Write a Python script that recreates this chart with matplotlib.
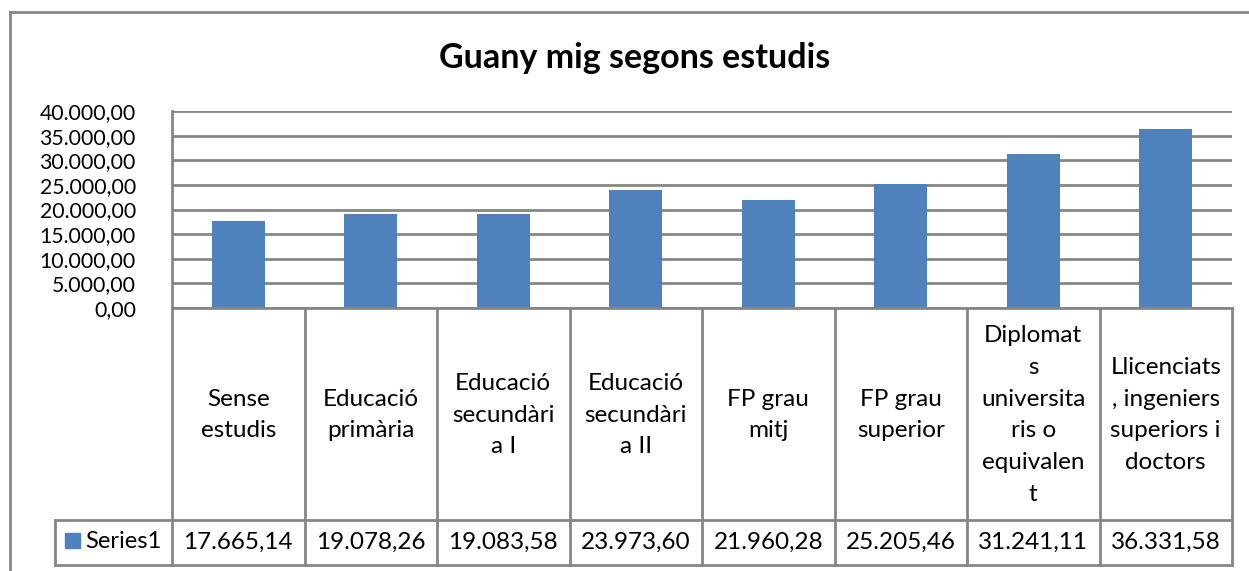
import matplotlib
matplotlib.use("Agg")
import matplotlib.pyplot as plt
from matplotlib.lines import Line2D
from matplotlib.patches import Rectangle

categories = ["Sense\nestudis", "Educació\nprimària", "Educació\nsecundàri\na I",
              "Educació\nsecundàri\na II", "FP grau\nmitj", "FP grau\nsuperior",
              "Diplomat\ns\nuniversita\nris o\nequivalen\nt",
              "Llicenciats\n, ingeniers\nsuperiors i\ndoctors"]
values = [17665.14, 19078.26, 19083.58, 23973.60, 21960.28, 25205.46, 31241.11, 36331.58]
series_name = "Series1"
title = "Guany mig segons estudis"
yticks = [0, 5000, 10000, 15000, 20000, 25000, 30000, 35000, 40000]

BAR = "#4F81BD"
GRID = "#868686"
FONT = ["Lato", "DejaVu Sans"]
plt.rcParams['font.family'] = FONT

W, H = 1249, 571
fig = plt.figure(figsize=(W / 100, H / 100), dpi=100)

def fx(px):
    return px / W

def fy(py):
    return 1 - py / H

# plot area
L, R, T, B = 172, 1232, 111, 308
ax = fig.add_axes([fx(L), fy(B), fx(R - L), (B - T) / H])
n = len(values)
ax.bar(range(n), values, width=0.4, color=BAR, zorder=3)
ax.set_xlim(-0.5, n - 0.5)
ax.set_ylim(0, 40000)
ax.set_yticks(yticks)
ax.yaxis.grid(True, color=GRID, lw=2, zorder=0)
ax.set_xticks([])

def fmt(v):
    s = f"{v:,.2f}"
    return s.replace(",", "X").replace(".", ",").replace("X", ".")

ax.set_yticklabels([fmt(v) for v in yticks], fontsize=15.3)
ax.tick_params(axis='y', length=0, pad=26)
for s in ["top", "right", "bottom"]:
    ax.spines[s].set_visible(False)
ax.spines["left"].set_color(GRID)
ax.spines["left"].set_linewidth(2)

# table
row1_bot = 520
row2_bot = 565
leg_left = 55

def ay(py):
    return (B - py) / (B - T)

tr = ax.get_xaxis_transform()
lk = dict(color=GRID, lw=2, clip_on=False, transform=tr, zorder=4)
ax.add_line(Line2D([-0.5, n - 0.5], [0, 0], **lk))
ax.add_line(Line2D([-0.5, n - 0.5], [ay(row1_bot)] * 2, **lk))
ax.add_line(Line2D([-0.5, n - 0.5], [ay(row2_bot)] * 2, **lk))
for i in range(n + 1):
    ax.add_line(Line2D([i - 0.5, i - 0.5], [0, ay(row2_bot)], **lk))
fl = dict(color=GRID, lw=2, transform=fig.transFigure)
fig.add_artist(Line2D([fx(leg_left), fx(L)], [fy(row1_bot)] * 2, **fl))
fig.add_artist(Line2D([fx(leg_left), fx(L)], [fy(row2_bot)] * 2, **fl))
fig.add_artist(Line2D([fx(leg_left)] * 2, [fy(row1_bot), fy(row2_bot)], **fl))

mid1 = ay(415)
mid2 = ay(542)
for i, (c, v) in enumerate(zip(categories, values)):
    ax.text(i, mid1, c, transform=tr, ha="center", va="center", fontsize=17.5,
            linespacing=1.63, clip_on=False)
    ax.text(i, mid2, fmt(v), transform=tr, ha="center", va="center", fontsize=17.5,
            clip_on=False)

fig.add_artist(Rectangle((fx(65), fy(548)), fx(15), 15 / H, color=BAR,
                         transform=fig.transFigure))
fig.text(fx(85), fy(542), series_name, ha="left", va="center", fontsize=17)

# title
fig.text(fx(635), fy(58), title, ha="center", va="center", fontsize=24.5, fontweight="bold")

# outer border
fig.add_artist(Line2D([fx(10), fx(10)], [fy(12), 0], color="#888888", lw=2,
                      transform=fig.transFigure))
fig.add_artist(Line2D([fx(10), 1], [fy(12), fy(12)], color="#888888", lw=2,
                      transform=fig.transFigure))

fig.savefig("out.png", dpi=100, facecolor="white")
